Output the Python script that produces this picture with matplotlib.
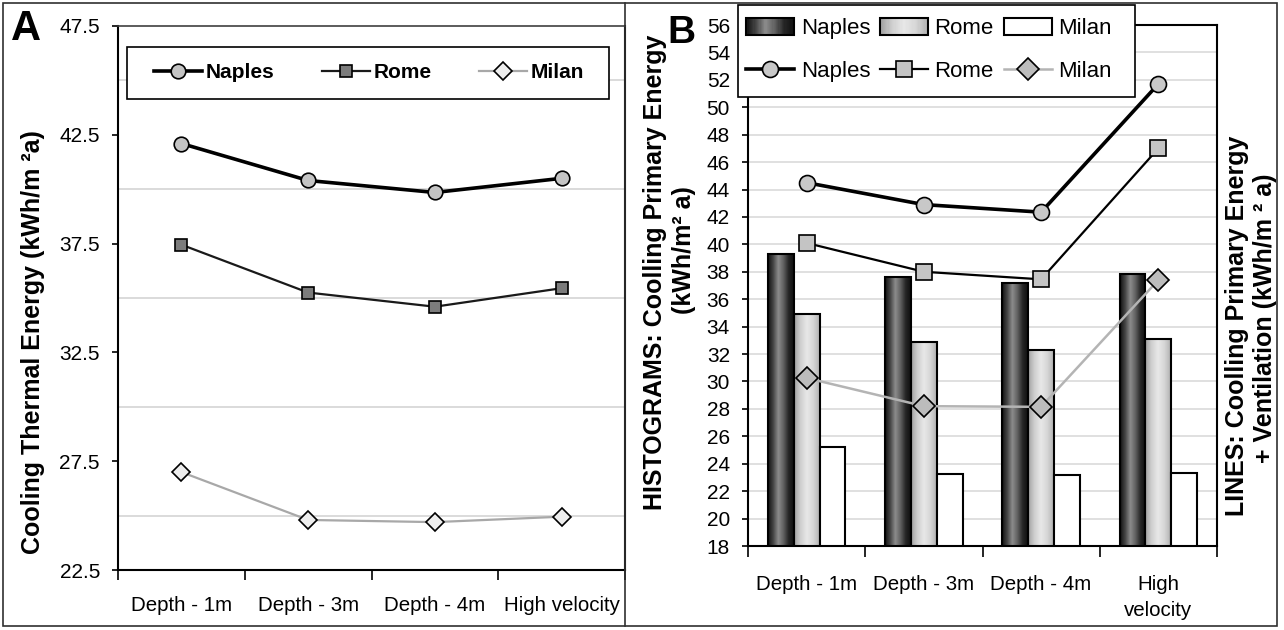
import numpy as np
import matplotlib
matplotlib.use("Agg")
from matplotlib import pyplot as plt
from matplotlib.colors import LinearSegmentedColormap
from matplotlib.legend_handler import HandlerBase
from matplotlib.lines import Line2D
from matplotlib.patches import Patch, Rectangle

# ------------------------------ Dados ------------------------------ #
categorias_a = ["Depth - 1m", "Depth - 3m", "Depth - 4m", "High velocity"]
categorias_b = ["Depth - 1m", "Depth - 3m", "Depth - 4m", "High\nvelocity"]
cidades = ["Naples", "Rome", "Milan"]

# Painel A: energia termica de resfriamento (kWh/m2 a)
naples_a = [42.1, 40.4, 39.85, 40.5]
rome_a = [37.45, 35.25, 34.6, 35.45]
milan_a = [27.0, 24.8, 24.7, 24.95]

# Painel B: histogramas (energia primaria de resfriamento)
naples_hist = [39.3, 37.65, 37.2, 37.85]
rome_hist = [34.9, 32.9, 32.3, 33.1]
milan_hist = [25.25, 23.25, 23.15, 23.35]

# Painel B: linhas (energia primaria + ventilacao)
naples_lin = [44.5, 42.9, 42.35, 51.7]
rome_lin = [40.1, 38.0, 37.45, 47.0]
milan_lin = [30.25, 28.2, 28.15, 37.4]

# ---------------------------- Configuracao ---------------------------- #
plt.rcParams['font.family'] = ['Liberation Sans', 'DejaVu Sans']

W, H = 1284, 630
fig = plt.figure(figsize=(W / 100, H / 100), dpi=100)


def fx(px):
    return px / W


def fy(py):
    return 1 - py / H


def caixa(x0, y0, x1, y1):
    """Retangulo em pixels (origem no topo) -> coordenadas da figura."""
    return [fx(x0), fy(y1), fx(x1) - fx(x0), (y1 - y0) / H]


cmap_naples = LinearSegmentedColormap.from_list(
    "naples", ["#101010", "#454545", "#8c8c8c", "#606060", "#252525", "#101010"])
cmap_rome = LinearSegmentedColormap.from_list(
    "rome", ["#a0a0a0", "#cfcfcf", "#e8e8e8", "#d6d6d6", "#b0b0b0"])


class HandlerGradiente(HandlerBase):
    def __init__(self, cmap):
        super().__init__()
        self.cmap = cmap

    def create_artists(self, legend, orig_handle, xdescent, ydescent,
                       width, height, fontsize, trans):
        n = 40
        artistas = []
        for i in range(n):
            artistas.append(Rectangle((-xdescent + width * i / n, -ydescent),
                                      width / n * 1.1, height,
                                      facecolor=self.cmap((i + 0.5) / n),
                                      edgecolor='none', transform=trans))
        artistas.append(Rectangle((-xdescent, -ydescent), width, height,
                                  facecolor='none', edgecolor='black',
                                  linewidth=1.5, transform=trans))
        return artistas


def barras_gradiente(ax, xs, valores, largura, cmap):
    grad = np.linspace(0, 1, 256)[np.newaxis, :]
    for xc, v in zip(xs, valores):
        ax.imshow(grad, extent=(xc - largura / 2, xc + largura / 2, 0, v),
                  aspect='auto', cmap=cmap, interpolation='bilinear', zorder=2)
    ax.bar(xs, valores, largura, facecolor='none', edgecolor='black',
           linewidth=1.5, zorder=2.1)


# ------------------------------ Painel A ------------------------------ #
x = np.arange(len(categorias_a))
axA = fig.add_axes(caixa(118, 26, 625, 570))

axA.plot(x, naples_a, color='black', lw=2.6, marker='o', ms=10.5,
         mfc='#c4c4c4', mec='black', mew=1.2, zorder=3)
axA.plot(x, rome_a, color='#1a1a1a', lw=1.6, marker='s', ms=8.5,
         mfc='#7c7c7c', mec='black', mew=1.2, zorder=3)
axA.plot(x, milan_a, color='#a8a8a8', lw=1.6, marker='D', ms=9.5,
         mfc='#eeeeee', mec='black', mew=1.2, zorder=3)

axA.set_xlim(-0.5, 3.5)
axA.set_ylim(22.5, 47.5)
axA.set_yticks(np.arange(22.5, 47.6, 5))
axA.set_yticks(np.arange(22.5, 47.6, 2.5), minor=True)
axA.yaxis.grid(True, which='minor', color='#d4d4d4', lw=1.2)
axA.set_axisbelow(True)
axA.tick_params(axis='y', which='major', labelsize=15, length=4, width=1.2, pad=9)
axA.tick_params(axis='y', which='minor', length=0)
axA.set_xticks(x, categorias_a, fontsize=14.8)
axA.set_xticks(np.arange(-0.5, 3.6, 1), minor=True)
axA.tick_params(axis='x', which='major', length=0, pad=19)
axA.tick_params(axis='x', which='minor', length=7, width=1.2)
for lado in ['left', 'bottom', 'right']:
    axA.spines[lado].set_linewidth(1.5)
axA.spines['top'].set_color('#404040')
axA.spines['top'].set_linewidth(1.2)

# legenda A
fig.add_artist(Rectangle((fx(127), fy(99)), fx(609) - fx(127), 52 / H,
                         transform=fig.transFigure, facecolor='white',
                         edgecolor='black', lw=1.2, zorder=4))
handles_a = [
    Line2D([], [], color='black', lw=2.6, marker='o', ms=10.5, mfc='#c4c4c4', mec='black', mew=1.2),
    Line2D([], [], color='#1a1a1a', lw=1.6, marker='s', ms=8.5, mfc='#7c7c7c', mec='black', mew=1.2),
    Line2D([], [], color='#a8a8a8', lw=1.6, marker='D', ms=9.5, mfc='#eeeeee', mec='black', mew=1.2),
]
fig.legend(handles_a, cidades, ncol=3, loc='center',
           bbox_to_anchor=(fx(369), fy(73)), frameon=False,
           prop=dict(weight='bold', size=15),
           handlelength=2.3, handletextpad=0.15, columnspacing=2.3)

fig.text(fx(33), fy(342), "Cooling Thermal Energy (kWh/m ²a)", rotation=90,
         ha='center', va='center', fontsize=18, fontweight='bold')
fig.text(fx(26), fy(29), "A", ha='center', va='center', fontsize=30, fontweight='bold')

# ------------------------------ Painel B ------------------------------ #
axB = fig.add_axes(caixa(748, 25, 1217, 546))
larg = 0.22
barras_gradiente(axB, x - larg, naples_hist, larg, cmap_naples)
barras_gradiente(axB, x, rome_hist, larg, cmap_rome)
axB.bar(x + larg, milan_hist, larg, facecolor='white', edgecolor='black',
        linewidth=1.5, zorder=2.1)

axB.plot(x, naples_lin, color='black', lw=2.6, marker='o', ms=11.5,
         mfc='#c8c8c8', mec='black', mew=1.2, zorder=4)
axB.plot(x, rome_lin, color='black', lw=1.6, marker='s', ms=11,
         mfc='#c4c4c4', mec='black', mew=1.2, zorder=4)
axB.plot(x, milan_lin, color='#b4b4b4', lw=1.8, marker='D', ms=11,
         mfc='#bcbcbc', mec='black', mew=1.2, zorder=4)

axB.set_xlim(-0.5, 3.5)
axB.set_ylim(18, 56)
axB.set_yticks(np.arange(18, 57, 2))
axB.yaxis.grid(True, color='#dadada', lw=1.2)
axB.set_axisbelow(True)
axB.tick_params(axis='y', labelsize=15, length=4, width=1.2, pad=9)
axB.set_xticks(x, categorias_b, fontsize=14.8, linespacing=1.45)
axB.set_xticks(np.arange(-0.5, 3.6, 1), minor=True)
axB.tick_params(axis='x', which='major', length=0, pad=21)
axB.tick_params(axis='x', which='minor', length=8, width=1.2)
for lado in ['left', 'bottom', 'right', 'top']:
    axB.spines[lado].set_linewidth(1.5)

# legenda B
fig.add_artist(Rectangle((fx(738), fy(97)), fx(1135) - fx(738), 92 / H,
                         transform=fig.transFigure, facecolor='white',
                         edgecolor='black', lw=1.2, zorder=4))
barra_n = Patch()
barra_r = Patch()
barra_m = Patch(facecolor='white', edgecolor='black', linewidth=1.5)
linha_n = Line2D([], [], color='black', lw=2.6, marker='o', ms=11.5, mfc='#c8c8c8', mec='black', mew=1.2)
linha_r = Line2D([], [], color='black', lw=1.6, marker='s', ms=11, mfc='#c4c4c4', mec='black', mew=1.2)
linha_m = Line2D([], [], color='#b4b4b4', lw=1.8, marker='D', ms=11, mfc='#bcbcbc', mec='black', mew=1.2)
fig.legend([barra_n, linha_n, barra_r, linha_r, barra_m, linha_m],
           ["Naples", "Naples", "Rome", "Rome", "Milan", "Milan"],
           ncol=3, loc='center', bbox_to_anchor=(fx(929), fy(50)), frameon=False,
           prop=dict(size=16),
           handlelength=2.15, handletextpad=0.3, columnspacing=0.45,
           labelspacing=1.0, handleheight=0.8,
           handler_map={barra_n: HandlerGradiente(cmap_naples),
                        barra_r: HandlerGradiente(cmap_rome)})

fig.text(fx(655), fy(272), "HISTOGRAMS: Coolling Primary Energy", rotation=90,
         ha='center', va='center', fontsize=18, fontweight='bold')
fig.text(fx(684), fy(250), "(kWh/m² a)", rotation=90,
         ha='center', va='center', fontsize=18, fontweight='bold')
fig.text(fx(1237), fy(326), "LINES: Coolling Primary Energy", rotation=90,
         ha='center', va='center', fontsize=18, fontweight='bold')
fig.text(fx(1265), fy(318), "+ Ventilation (kWh/m ² a)", rotation=90,
         ha='center', va='center', fontsize=18, fontweight='bold')
fig.text(fx(681), fy(33), "B", ha='center', va='center', fontsize=28, fontweight='bold')

# ------------------------------ Moldura ------------------------------ #
fig.add_artist(Rectangle((fx(3), fy(626)), fx(1277) - fx(3), 623 / H,
                         transform=fig.transFigure, fill=False,
                         edgecolor='#303030', lw=1.2, zorder=6))
fig.add_artist(Line2D([fx(625), fx(625)], [fy(626), fy(3)],
                      transform=fig.transFigure, color='#303030', lw=1.2, zorder=6))

fig.savefig("out.png", dpi=100)
